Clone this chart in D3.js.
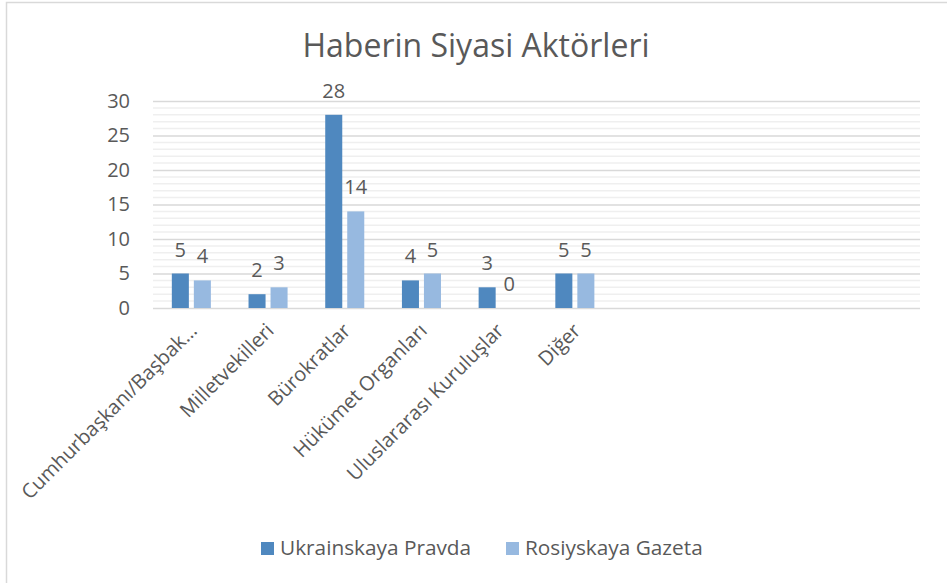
<!DOCTYPE html>
<html>
<head>
<meta charset="utf-8">
<title>Haberin Siyasi Aktörleri</title>
<script src="https://cdnjs.cloudflare.com/ajax/libs/d3/7.8.5/d3.min.js"></script>
<style>
  body { margin: 0; background: #fff; }
  svg text { font-family: "Open Sans", Lato, sans-serif; fill: #595959; }
</style>
</head>
<body>
<div id="chart"></div>
<script>
// data
var categories = ["Cumhurbaşkanı/Başbak…", "Milletvekilleri", "Bürokratlar", "Hükümet Organları", "Uluslararası Kuruluşlar", "Diğer"];
var emptySlots = ["e1", "e2", "e3", "e4"]; // the source range had 4 empty rows
var seriesNames = ["Ukrainskaya Pravda", "Rosiyskaya Gazeta"];
var ukrainskaya = [5, 2, 28, 4, 3, 5];
var rosiyskaya = [4, 3, 14, 5, 0, 5];
var yTicks = [0, 5, 10, 15, 20, 25, 30];

var W = 947, H = 583;
var colors = ["#4f88bf", "#97b9e0"];
var plotLeft = 153, plotRight = 920, plotTop = 101, plotBottom = 308;

var svg = d3.select("#chart").append("svg")
  .attr("width", W).attr("height", H);

// chart frame
svg.append("rect")
  .attr("x", 6.5).attr("y", 2.5).attr("width", 1000).attr("height", 1000)
  .attr("fill", "none").attr("stroke", "#d9d9d9").attr("stroke-width", 1.5);

var x = d3.scaleBand().domain(categories.concat(emptySlots)).range([plotLeft, plotRight]);
var y = d3.scaleLinear().domain([0, 30]).range([plotBottom, plotTop]);

// minor gridlines every 1
svg.append("g").selectAll("line")
  .data(d3.range(0, 31).filter(function(v){ return v % 5 != 0; }))
  .join("line")
  .attr("x1", plotLeft).attr("x2", plotRight)
  .attr("y1", function(d){ return y(d); }).attr("y2", function(d){ return y(d); })
  .attr("stroke", "#efefef").attr("stroke-width", 1.5);

// major gridlines + y labels
var yAxis = svg.append("g").attr("transform", "translate(" + plotLeft + ",0)")
  .call(d3.axisLeft(y).tickValues(yTicks).tickSize(-(plotRight - plotLeft)).tickPadding(23));
yAxis.select(".domain").remove();
yAxis.selectAll(".tick line").attr("stroke", "#d9d9d9").attr("stroke-width", 1.5);
yAxis.selectAll(".tick text").attr("font-size", 20).attr("font-family", "Open Sans").attr("fill", "#595959");

var step = x.bandwidth();
var bw = step * 0.222, gap = step * 0.065;

var series = [ukrainskaya, rosiyskaya];
series.forEach(function(vals, si) {
  var g = svg.append("g");
  var xs = function(d, i) {
    var c = x(categories[i]) + step / 2;
    return si == 0 ? c - gap / 2 - bw : c + gap / 2;
  };
  g.selectAll("rect").data(vals).join("rect")
    .attr("x", xs)
    .attr("y", function(d){ return y(d); })
    .attr("width", bw)
    .attr("height", function(d){ return y(0) - y(d); })
    .attr("fill", colors[si]);
  g.selectAll("text").data(vals).join("text")
    .attr("x", function(d, i){ return xs(d, i) + bw / 2; })
    .attr("y", function(d){ return y(d) - 17; })
    .attr("text-anchor", "middle")
    .attr("font-size", 20)
    .text(function(d){ return d; });
});

// category labels, rotated
svg.append("g").selectAll("text").data(categories).join("text")
  .attr("transform", function(d){
    return "translate(" + (x(d) + step / 2 + 2) + "," + (plotBottom + 19) + ") rotate(-45)";
  })
  .attr("text-anchor", "end")
  .attr("dy", "0.35em")
  .attr("font-size", 20)
  .text(function(d){ return d; });

// title
svg.append("text")
  .attr("x", 476).attr("y", 57)
  .attr("text-anchor", "middle")
  .attr("font-size", 32)
  .text("Haberin Siyasi Aktörleri");

// legend
var legendX = [261, 506];
seriesNames.forEach(function(name, i) {
  svg.append("rect")
    .attr("x", legendX[i]).attr("y", 542)
    .attr("width", 13).attr("height", 13)
    .attr("fill", colors[i]);
  svg.append("text")
    .attr("x", legendX[i] + 19).attr("y", 555)
    .attr("font-size", 20.8)
    .text(name);
});
</script>
</body>
</html>
